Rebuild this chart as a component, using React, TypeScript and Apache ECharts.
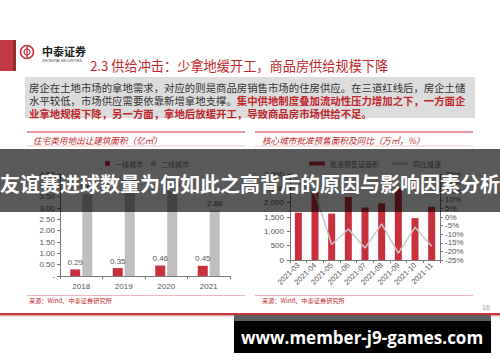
import React, { useEffect, useRef } from "react";
import * as echarts from "echarts";

const leftCategories = ["2018", "2019", "2020", "2021"];
const tier1Area = [0.29, 0.35, 0.46, 0.45];
const tier2Area = [3.6, 3.85, 3.75, 2.88];

const months = ["2021-03", "2021-04", "2021-05", "2021-06", "2021-07", "2021-08", "2021-09", "2021-10", "2021-11"];
const presaleArea = [1650, 2400, 1620, 2200, 1830, 1980, 2500, 1460, 1860];
const yoyGrowth = [20, 14, -16, -7, -18, -4, -21, -6, -17];

const slideTitle = "2.3 供给冲击：少拿地缓开工，商品房供给规模下降";
const bodyLine1 = "房企在土地市场的拿地需求，对应的则是商品房销售市场的住房供应。在三道红线后，房企土储";
const bodyLine2a = "水平较低，市场供应需要依靠新增拿地支撑。";
const bodyLine2b = "集中供地制度叠加流动性压力增加之下，一方面企";
const bodyLine3 = "业拿地规模下降，另一方面，拿地后放缓开工，导致商品房市场供给不足。";
const leftTitle = "住宅类用地出让建筑面积（亿㎡）";
const rightTitle = "核心城市批准预售面积及同比（万㎡，%）";
const sourceText = "来源：Wind、中泰证券研究所";
const headline = "友谊赛进球数量为何如此之高背后的原因与影响因素分析";
const siteText = "www.member-j9-games.com";

const RED = "#C9303E";
const GRAY_BAR = "#BFBFBF";
const CJK = "'Noto Sans CJK SC', sans-serif";
const AX = "#777";

export default function App() {
  const ref = useRef<HTMLDivElement>(null);
  useEffect(() => {
    if (!ref.current) return;
    const chart = echarts.init(ref.current, undefined, { renderer: "svg" });
    const axisLabel = { fontSize: 8, color: "#555", fontFamily: "Arial, 'Liberation Sans', sans-serif" };
    const option: any = {
      animation: false,
      backgroundColor: "#fff",
      legend: [
        {
          data: ["一线城市", "二线城市"],
          left: 100,
          top: 155,
          itemWidth: 5,
          itemHeight: 5,
          itemGap: 8,
          textStyle: { fontSize: 7, color: "#777", fontFamily: CJK },
        },
        {
          data: ["批准预售证面积", "同比增速"],
          left: 304,
          top: 155,
          itemWidth: 16,
          itemHeight: 4,
          itemGap: 12,
          textStyle: { fontSize: 7, color: "#777", fontFamily: CJK },
        },
      ],
      grid: [
        { left: 60, top: 174, width: 170, height: 102 },
        { left: 290, top: 174, width: 150, height: 86 },
      ],
      xAxis: [
        {
          type: "category",
          gridIndex: 0,
          data: leftCategories,
          axisLine: { lineStyle: { color: AX } },
          axisTick: { show: true, lineStyle: { color: AX }, length: 3 },
          axisLabel: { ...axisLabel, margin: 6 },
        },
        {
          type: "category",
          gridIndex: 1,
          data: months,
          axisLine: { lineStyle: { color: AX } },
          axisTick: { show: true, lineStyle: { color: AX }, length: 3 },
          axisLabel: { ...axisLabel, fontSize: 7.5, rotate: 45, margin: 4, interval: 0 },
        },
      ],
      yAxis: [
        {
          type: "value",
          gridIndex: 0,
          min: 0,
          max: 4.5,
          interval: 0.5,
          axisLine: { show: true, lineStyle: { color: AX } },
          axisTick: { show: true, lineStyle: { color: AX }, length: 3 },
          splitLine: { show: false },
          axisLabel: { ...axisLabel, margin: 5, formatter: (v: number) => (v === 0 ? "-" : v.toFixed(2)) },
        },
        {
          type: "value",
          gridIndex: 1,
          min: 0,
          max: 3000,
          interval: 500,
          axisLine: { show: true, lineStyle: { color: AX } },
          axisTick: { show: true, lineStyle: { color: AX }, length: 3 },
          splitLine: { show: false },
          axisLabel: { ...axisLabel, margin: 6 },
        },
        {
          type: "value",
          gridIndex: 1,
          position: "right",
          min: -25,
          max: 25,
          interval: 5,
          axisLine: { show: true, lineStyle: { color: AX } },
          axisTick: { show: true, lineStyle: { color: AX }, length: 3 },
          splitLine: { show: false },
          axisLabel: { ...axisLabel, margin: 5, formatter: (v: number) => `${v}%` },
        },
      ],
      series: [
        {
          name: "一线城市",
          type: "bar",
          xAxisIndex: 0,
          yAxisIndex: 0,
          data: tier1Area,
          barWidth: 10,
          barGap: "20%",
          itemStyle: { color: RED },
          label: { show: true, position: "top", fontSize: 8, color: "#555", distance: 3, formatter: (p: any) => p.value.toFixed(2) },
        },
        {
          name: "二线城市",
          type: "bar",
          xAxisIndex: 0,
          yAxisIndex: 0,
          data: tier2Area,
          barWidth: 10,
          itemStyle: { color: GRAY_BAR },
          label: { show: true, position: "top", fontSize: 8, color: "#555", distance: 3, formatter: (p: any) => p.value.toFixed(2) },
        },
        {
          name: "批准预售证面积",
          type: "bar",
          xAxisIndex: 1,
          yAxisIndex: 1,
          data: presaleArea,
          barWidth: 7,
          itemStyle: { color: RED },
        },
        {
          name: "同比增速",
          type: "line",
          xAxisIndex: 1,
          yAxisIndex: 2,
          data: yoyGrowth,
          symbol: "none",
          lineStyle: { color: "#C8C8C8", width: 1.5 },
          itemStyle: { color: "#C8C8C8" },
          label: { show: true, position: "right", distance: 3, fontSize: 8, color: "#555", formatter: (p: any) => `${p.value}%` },
        },
      ],
      graphic: [
        // left red block
        { type: "rect", shape: { x: 0, y: 40, width: 13, height: 31 }, style: { fill: "#C33A40" } },
        { type: "rect", shape: { x: 13, y: 40, width: 3, height: 31 }, style: { fill: "#9C2830" } },
        // logo
        { type: "circle", shape: { cx: 27, cy: 52, r: 6.5 }, style: { fill: "none", stroke: RED, lineWidth: 1.5 } },
        { type: "circle", shape: { cx: 27, cy: 52, r: 3 }, style: { fill: "none", stroke: RED, lineWidth: 1.2 } },
        { type: "line", shape: { x1: 27, y1: 46, x2: 27, y2: 58 }, style: { stroke: RED, lineWidth: 1.2 } },
        { type: "text", x: 42, y: 51, style: { text: "中泰证券", fontSize: 11, fontWeight: "bold", fill: "#222", fontFamily: CJK, verticalAlign: "middle" } },
        { type: "text", x: 42, y: 61, style: { text: "ZHONGTAI SECURITIES", fontSize: 3.5, fill: "#444", fontFamily: "Arial", verticalAlign: "middle" } },
        // title
        { type: "text", x: 90, y: 65, style: { text: slideTitle, fontSize: 13.2, fill: "#C0272D", fontFamily: CJK, verticalAlign: "middle" } },
        // gray box
        { type: "rect", shape: { x: 25, y: 77, width: 450, height: 41 }, style: { fill: "#DCDCDC" } },
        { type: "text", x: 29, y: 87, style: { text: bodyLine1, fontSize: 10.4, fill: "#333", fontFamily: CJK, verticalAlign: "middle" } },
        {
          type: "text",
          x: 29,
          y: 100,
          style: {
            text: `{a|${bodyLine2a}}{b|${bodyLine2b}}`,
            verticalAlign: "middle",
            rich: {
              a: { fontSize: 10.4, fill: "#333", fontFamily: CJK },
              b: { fontSize: 10.4, fill: "#C0272D", fontWeight: "bold", fontFamily: CJK },
            },
          },
        },
        { type: "text", x: 29, y: 113, style: { text: bodyLine3, fontSize: 10.4, fill: "#C0272D", fontWeight: "bold", fontFamily: CJK, verticalAlign: "middle" } },
        // chart headers
        { type: "line", shape: { x1: 27, y1: 132, x2: 245, y2: 132 }, style: { stroke: "#C9303E", lineWidth: 1.2 } },
        { type: "line", shape: { x1: 27, y1: 146, x2: 245, y2: 146 }, style: { stroke: "#E3A4A8", lineWidth: 0.6 } },
        { type: "text", x: 33, y: 140, style: { text: leftTitle, fontSize: 8.6, fontStyle: "italic", fill: "#C0272D", fontFamily: CJK, verticalAlign: "middle" } },
        { type: "line", shape: { x1: 255, y1: 132, x2: 473, y2: 132 }, style: { stroke: "#C9303E", lineWidth: 1.2 } },
        { type: "line", shape: { x1: 255, y1: 146, x2: 473, y2: 146 }, style: { stroke: "#E3A4A8", lineWidth: 0.6 } },
        { type: "text", x: 262, y: 140, style: { text: rightTitle, fontSize: 8.6, fontStyle: "italic", fill: "#C0272D", fontFamily: CJK, verticalAlign: "middle" } },
        // source lines
        { type: "line", shape: { x1: 27, y1: 295.5, x2: 245, y2: 295.5 }, style: { stroke: "#E3A4A8", lineWidth: 0.8 } },
        { type: "line", shape: { x1: 255, y1: 295.5, x2: 473, y2: 295.5 }, style: { stroke: "#E3A4A8", lineWidth: 0.8 } },
        { type: "text", x: 29, y: 300, style: { text: sourceText, fontSize: 6.2, fill: "#C0272D", fontFamily: CJK, verticalAlign: "middle" } },
        { type: "text", x: 262, y: 300, style: { text: sourceText, fontSize: 6.2, fill: "#C0272D", fontFamily: CJK, verticalAlign: "middle" } },
        { type: "text", x: 482, y: 307, style: { text: "16", fontSize: 7, fill: "#999", fontFamily: "Arial", verticalAlign: "middle" } },
        // bottom red line
        { type: "rect", shape: { x: 0, y: 313, width: 500, height: 2.5 }, style: { fill: "#C8323C" } },
        { type: "rect", shape: { x: 0, y: 315.5, width: 500, height: 1 }, style: { fill: "#EBB5B8" } },
        // overlay band
        { type: "rect", z: 100, shape: { x: 0, y: 149, width: 500, height: 63 }, style: { fill: "rgba(0,0,0,0.65)" } },
        {
          type: "text",
          z: 101,
          x: 250,
          y: 183,
          style: { text: headline, fontSize: 20, fontWeight: "bold", fill: "#fff", fontFamily: CJK, align: "center", verticalAlign: "middle" },
        },
        // bottom site box
        { type: "rect", z: 100, shape: { x: 234, y: 315, width: 257, height: 6 }, style: { fill: "#5E5E5E" } },
        { type: "rect", z: 100, shape: { x: 234, y: 321, width: 257, height: 32 }, style: { fill: "#000" } },
        {
          type: "text",
          z: 101,
          x: 362,
          y: 337,
          style: { text: siteText, fontSize: 17, fontWeight: "bold", fill: "#fff", fontFamily: "'Open Sans', sans-serif", align: "center", verticalAlign: "middle" },
        },
      ],
    };
    chart.setOption(option);
    return () => chart.dispose();
  }, []);
  return <div ref={ref} style={{ position: "fixed", left: 0, top: 0, width: 500, height: 362 }} />;
}
